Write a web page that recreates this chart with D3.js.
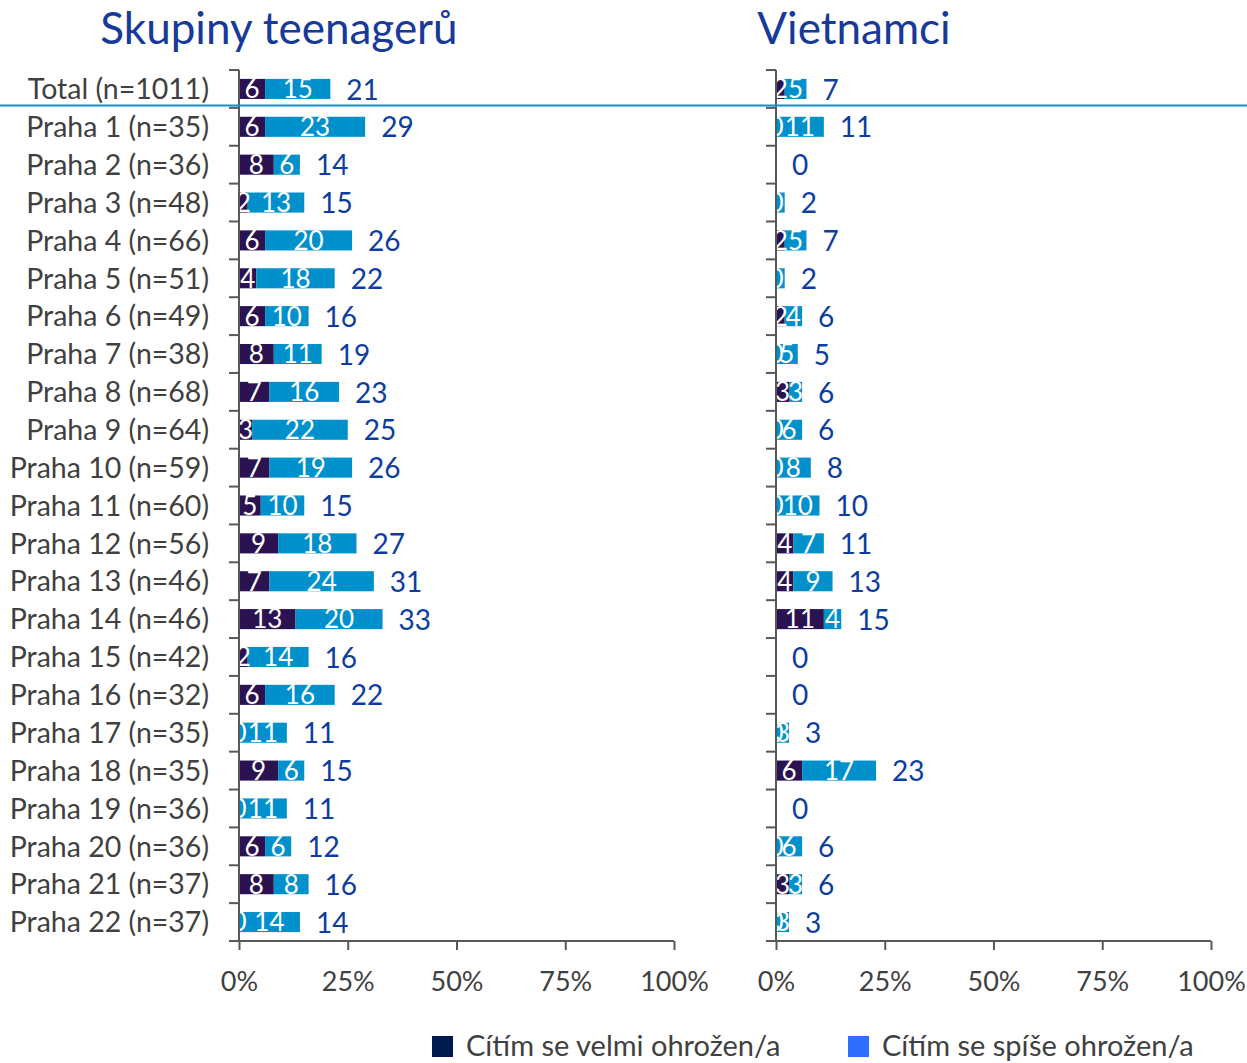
<!DOCTYPE html>
<html><head><meta charset="utf-8">
<script src="https://cdn.jsdelivr.net/npm/d3@7/dist/d3.min.js"></script>
<style>body{margin:0;background:#fff}svg{display:block}text{font-family:Lato,"Open Sans",sans-serif}</style>
</head><body><svg id="c" width="1247" height="1063"></svg>
<script>
const categories = ["Total (n=1011)","Praha 1 (n=35)","Praha 2 (n=36)","Praha 3 (n=48)","Praha 4 (n=66)","Praha 5 (n=51)","Praha 6 (n=49)","Praha 7 (n=38)","Praha 8 (n=68)","Praha 9 (n=64)","Praha 10 (n=59)","Praha 11 (n=60)","Praha 12 (n=56)","Praha 13 (n=46)","Praha 14 (n=46)","Praha 15 (n=42)","Praha 16 (n=32)","Praha 17 (n=35)","Praha 18 (n=35)","Praha 19 (n=36)","Praha 20 (n=36)","Praha 21 (n=37)","Praha 22 (n=37)"];
const teenVery   = [6,6,8,2,6,4,6,8,7,3,7,5,9,7,13,2,6,0,9,0,6,8,0];
const teenRather = [15,23,6,13,20,18,10,11,16,22,19,10,18,24,20,14,16,11,6,11,6,8,14];
const teenTotal  = [21,29,14,15,26,22,16,19,23,25,26,15,27,31,33,16,22,11,15,11,12,16,14];
const vietVery   = [2,0,0,0,2,0,2,0,3,0,0,0,4,4,11,0,0,0,6,0,0,3,0];
const vietRather = [5,11,0,2,5,2,4,5,3,6,8,10,7,9,4,0,0,3,17,0,6,3,3];
const vietTotal  = [7,11,0,2,7,2,6,5,6,6,8,10,11,13,15,0,0,3,23,0,6,6,3];
const xTicks = [0,25,50,75,100];
const panelTitles = ["Skupiny teenagerů","Vietnamci"];
const seriesNames = ["Cítím se velmi ohrožen/a","Cítím se spíše ohrožen/a"];

const C_VERY="#2B1250", C_RATHER="#0090CC", C_TOT="#0D3D9E", C_AX="#595959", C_TXT="#404040";
const svg = d3.select("#c");
const y = d3.scaleBand().domain(categories).range([70,941]).padding(0);
const barH = y.bandwidth()*0.53;

function panel(x0,x1,very,rather,total,title,titleX,showCats,id){
  const x = d3.scaleLinear().domain([0,100]).range([x0,x1]);
  const g = svg.append("g");
  svg.append("defs").append("clipPath").attr("id",id).append("rect")
    .attr("x",x0).attr("y",60).attr("width",x1-x0+200).attr("height",890);
  const bars = g.append("g").attr("clip-path",`url(#${id})`);
  categories.forEach((c,i)=>{
    const yc = y(c)+y.bandwidth()/2;
    bars.append("rect").attr("x",x(0)).attr("y",yc-barH/2).attr("width",x(very[i])-x(0)).attr("height",barH).attr("fill",C_VERY);
    bars.append("rect").attr("x",x(very[i])).attr("y",yc-barH/2).attr("width",x(very[i]+rather[i])-x(very[i])).attr("height",barH).attr("fill",C_RATHER);
    bars.append("text").attr("x",(x(0)+x(very[i]))/2).attr("y",yc).attr("dy","0.36em").attr("text-anchor","middle")
      .attr("fill","#fff").attr("font-size",26).text(very[i]);
    if(!(rather[i]<3 && very[i]===0 && rather[i]>0))
    bars.append("text").attr("x",(x(very[i])+x(very[i]+rather[i]))/2).attr("y",yc).attr("dy","0.36em").attr("text-anchor","middle")
      .attr("fill","#fff").attr("font-size",26).text(rather[i]);
    g.append("text").attr("x",x(total[i])+16).attr("y",yc).attr("dy","0.38em")
      .attr("fill",C_TOT).attr("font-size",28).text(total[i]);
    if(showCats) g.append("text").attr("x",209).attr("y",yc).attr("dy","0.36em").attr("text-anchor","end")
      .attr("fill",C_TXT).attr("font-size",28.5).text(c);
  });
  // y axis
  const yb = categories.map(c=>y(c)).concat([y.range()[1]]);
  g.append("line").attr("x1",x0).attr("x2",x0).attr("y1",70).attr("y2",941).attr("stroke",C_AX).attr("stroke-width",2);
  yb.forEach(v=>g.append("line").attr("x1",x0-10).attr("x2",x0).attr("y1",v).attr("y2",v).attr("stroke",C_AX).attr("stroke-width",2));
  // x axis
  const ax = g.append("g").attr("transform","translate(0,941)")
    .call(d3.axisBottom(x).tickValues(xTicks).tickSize(9).tickPadding(22).tickFormat(d=>d+"%"));
  ax.select(".domain").attr("stroke",C_AX).attr("stroke-width",2).attr("d",`M${x0},0H${x1}`);
  ax.selectAll(".tick line").attr("stroke",C_AX).attr("stroke-width",2);
  ax.selectAll(".tick text").attr("fill",C_TXT).attr("font-size",27).attr("font-family","Lato,'Open Sans',sans-serif");
  svg.append("text").attr("x",titleX).attr("y",44).attr("text-anchor","middle")
    .attr("fill","#17399A").attr("font-size",44).text(title);
}
panel(239,674,teenVery,teenRather,teenTotal,panelTitles[0],279,true,"clipL");
panel(776,1211,vietVery,vietRather,vietTotal,panelTitles[1],854,false,"clipR");
// separator line
svg.append("line").attr("x1",0).attr("x2",1247).attr("y1",105.5).attr("y2",105.5).attr("stroke","#0B8FCF").attr("stroke-width",2);
// legend
const leg = [{x:432,c:"#001A4D"},{x:848,c:"#2F6FFF"}];
leg.forEach((l,i)=>{
  svg.append("rect").attr("x",l.x).attr("y",1036).attr("width",21).attr("height",21).attr("fill",l.c);
  svg.append("text").attr("x",l.x+34).attr("y",1046).attr("dy","0.36em").attr("fill",C_TXT).attr("font-size",29).text(seriesNames[i]);
});
</script></body></html>
